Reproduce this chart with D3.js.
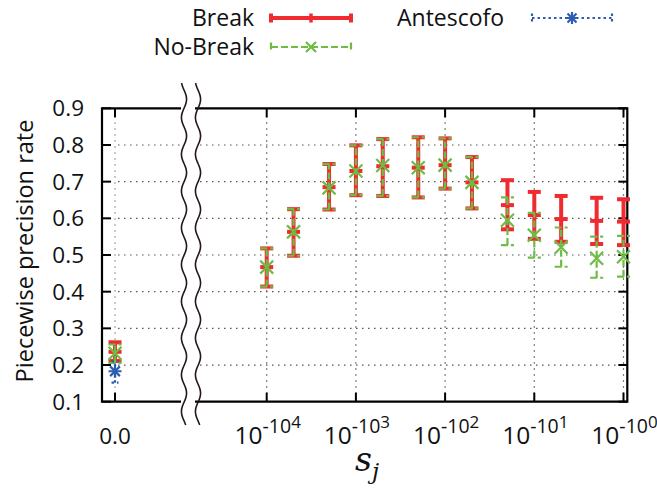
<!DOCTYPE html>
<html>
<head>
<meta charset="utf-8">
<script src="https://cdn.jsdelivr.net/npm/d3@7"></script>
<style>
  body { margin: 0; background: #fff; }
  svg { display: block; font-family: "Open Sans", "Noto Sans", sans-serif; }
</style>
</head>
<body>
<div id="chart"></div>
<script>
// s_j values on the right part: s_j = 10^-n, keep n here
const nValues = [10000, 5000, 2000, 1000, 500, 200, 100, 50, 20, 10, 5, 2, 1]
const xTickN = [10000, 1000, 100, 10, 1]
const xTickExp = ["4", "3", "2", "1", "0"]
const yTicks = [0.1, 0.2, 0.3, 0.4, 0.5, 0.6, 0.7, 0.8, 0.9]

const breakMid = [0.467, 0.563, 0.685, 0.729, 0.742, 0.738, 0.745, 0.698, 0.636, 0.609, 0.598, 0.593, 0.591]
const breakLo  = [0.414, 0.498, 0.624, 0.663, 0.661, 0.657, 0.681, 0.627, 0.570, 0.544, 0.536, 0.530, 0.527]
const breakHi  = [0.518, 0.625, 0.748, 0.799, 0.816, 0.821, 0.818, 0.767, 0.704, 0.672, 0.661, 0.656, 0.652]

const noBreakMid = [0.467, 0.563, 0.683, 0.729, 0.744, 0.738, 0.745, 0.698, 0.595, 0.554, 0.521, 0.491, 0.495]
const noBreakLo  = [0.414, 0.498, 0.624, 0.663, 0.661, 0.657, 0.681, 0.627, 0.527, 0.493, 0.468, 0.438, 0.441]
const noBreakHi  = [0.518, 0.625, 0.748, 0.799, 0.816, 0.821, 0.818, 0.767, 0.657, 0.615, 0.575, 0.550, 0.552]

// the single point at s_j = 0.0
const zeroBreak = [0.236, 0.211, 0.262]
const zeroNoBreak = [0.232, 0.206, 0.256]
const zeroAntescofo = [0.183, 0.152, 0.210]

const W = 657, H = 489
const red = "#ef2b2f", green = "#6dbd45", blue = "#2d5cb4"

const L = 102, R = 627.3, T = 108.3, B = 401.7
const gapL = 184, gapR = 198

const y = d3.scaleLinear().domain([0.1, 0.9]).range([B, T])
const xl = d3.scaleLinear().domain([-0.1, 0.53]).range([L, gapL])
const xr = d3.scaleLog().domain([1e4, 1]).range([266.7, 623.5])

const svg = d3.select("#chart").append("svg")
  .attr("width", W).attr("height", H)

// grid
const grid = svg.append("g")
  .attr("stroke", "#555").attr("stroke-width", 1.2)
  .attr("stroke-dasharray", "1.5,4.5")
yTicks.slice(1, -1).forEach(v => {
  grid.append("line").attr("x1", xl(0) + 3).attr("x2", gapL - 2)
    .attr("y1", y(v)).attr("y2", y(v))
  grid.append("line").attr("x1", gapR + 2).attr("x2", R - 2)
    .attr("y1", y(v)).attr("y2", y(v))
})
grid.append("line").attr("x1", xl(0)).attr("x2", xl(0))
  .attr("y1", T + 8).attr("y2", B - 2).attr("stroke", "#888")
xTickN.forEach(n => {
  grid.append("line").attr("x1", xr(n)).attr("x2", xr(n))
    .attr("y1", T + 2).attr("y2", B - 2)
})

// frame, cut by the break
const frame = svg.append("g").attr("stroke", "#000").attr("stroke-width", 2.2).attr("fill", "none")
frame.append("path").attr("d", `M${gapL - 3},${T}H${L}V${B}H${gapL - 3}`)
frame.append("path").attr("d", `M${gapR - 3},${T}H${R}V${B}H${gapR - 3}`)

// ticks
const ticks = svg.append("g").attr("stroke", "#000").attr("stroke-width", 2)
yTicks.forEach(v => {
  ticks.append("line").attr("x1", L).attr("x2", L + 9).attr("y1", y(v)).attr("y2", y(v))
  ticks.append("line").attr("x1", R - 9).attr("x2", R).attr("y1", y(v)).attr("y2", y(v))
})
ticks.append("line").attr("x1", xl(0)).attr("x2", xl(0)).attr("y1", B).attr("y2", B - 9)
ticks.append("line").attr("x1", xl(0)).attr("x2", xl(0)).attr("y1", T).attr("y2", T + 9)
xTickN.forEach(n => {
  ticks.append("line").attr("x1", xr(n)).attr("x2", xr(n)).attr("y1", B).attr("y2", B - 9)
  ticks.append("line").attr("x1", xr(n)).attr("x2", xr(n)).attr("y1", T).attr("y2", T + 9)
})

// wavy break marks
const wave = d3.line().curve(d3.curveBasis)
;[gapL, gapR].forEach(cx => {
  const pts = d3.range(83, 426, 2).map(yy => [cx + 2.6 * Math.sin(2 * Math.PI * (yy - 90) / 36.75), yy])
  svg.append("path").attr("d", wave(pts))
    .attr("fill", "none").attr("stroke", "#231815").attr("stroke-width", 1.6)
})

// tick labels
svg.append("g").selectAll("text").data(yTicks).join("text")
  .attr("x", 84).attr("y", d => y(d) + 8)
  .attr("text-anchor", "end").attr("font-size", 22.5).attr("fill", "#111")
  .text(d => d.toFixed(1))

svg.append("text").attr("x", xl(0)).attr("y", 444)
  .attr("text-anchor", "middle").attr("font-size", 22.5).attr("fill", "#111").text("0.0")

xTickN.forEach((n, i) => {
  const t = svg.append("text").attr("x", xr(n) + 1).attr("y", 444)
    .attr("text-anchor", "middle").attr("font-size", 24.5).attr("fill", "#111")
  t.append("tspan").text("10")
  t.append("tspan").attr("dy", -11).attr("font-size", 19.5).text("-10")
  t.append("tspan").attr("dy", -5).attr("font-size", 17).text(xTickExp[i])
})

// axis titles
svg.append("text")
  .attr("transform", "translate(33,251) rotate(-90)")
  .attr("text-anchor", "middle").attr("font-size", 23.5).attr("fill", "#111")
  .text("Piecewise precision rate")

const xt = svg.append("text").attr("x", 355).attr("y", 471)
  .attr("font-family", "'DejaVu Serif', 'Liberation Serif', serif")
  .attr("font-style", "italic").attr("font-size", 33).attr("fill", "#111")
xt.append("tspan").text("s")
xt.append("tspan").attr("dy", 8).attr("font-size", 23).text("j")

// markers
function plus(g, cx, cy, s, col, w) {
  g.append("path").attr("d", `M${cx - s},${cy}H${cx + s}M${cx},${cy - s}V${cy + s}`)
    .attr("stroke", col).attr("stroke-width", w).attr("fill", "none")
}
function cross(g, cx, cy, s, col, w) {
  g.append("path").attr("d", `M${cx - s},${cy - s}L${cx + s},${cy + s}M${cx - s},${cy + s}L${cx + s},${cy - s}`)
    .attr("stroke", col).attr("stroke-width", w).attr("fill", "none")
}
function star(g, cx, cy, s, col, w) {
  plus(g, cx, cy, s, col, w)
  cross(g, cx, cy, s * 0.75, col, w)
}

function errBar(g, cx, mid, lo, hi, o) {
  const bar = g.append("g").attr("stroke", o.col).attr("stroke-width", o.w)
    .attr("stroke-dasharray", o.dash).attr("fill", "none")
  bar.append("line").attr("x1", cx).attr("x2", cx).attr("y1", y(lo)).attr("y2", y(hi))
  bar.append("line").attr("x1", cx - o.cap).attr("x2", cx + o.cap).attr("y1", y(lo)).attr("y2", y(lo))
    .attr("stroke-width", o.capW)
  bar.append("line").attr("x1", cx - o.cap).attr("x2", cx + o.cap).attr("y1", y(hi)).attr("y2", y(hi))
    .attr("stroke-width", o.capW)
  o.mark(g, cx, y(mid), o.ms, o.col, o.mw)
}

const styleBreak = { col: red, w: 4, capW: 4, cap: 6.5, dash: null, mark: (g, cx, cy, s, c, w) => {
  g.append("line").attr("x1", cx - s).attr("x2", cx + s).attr("y1", cy).attr("y2", cy)
    .attr("stroke", c).attr("stroke-width", w)
}, ms: 6.5, mw: 4 }
const styleNoBreak = { col: green, w: 2.2, capW: 2.2, cap: 6.5, dash: "7,3", mark: cross, ms: 6.5, mw: 2.2 }
const styleAnt = { col: blue, w: 2.2, capW: 2.2, cap: 3.5, dash: "2.5,3", mark: star, ms: 6.5, mw: 2.2 }

const plot = svg.append("g")
nValues.forEach((n, i) => errBar(plot, xr(n), breakMid[i], breakLo[i], breakHi[i], styleBreak))
errBar(plot, xl(0), zeroBreak[0], zeroBreak[1], zeroBreak[2], styleBreak)
nValues.forEach((n, i) => errBar(plot, xr(n), noBreakMid[i], noBreakLo[i], noBreakHi[i], styleNoBreak))
errBar(plot, xl(0), zeroNoBreak[0], zeroNoBreak[1], zeroNoBreak[2], styleNoBreak)
errBar(plot, xl(0), zeroAntescofo[0], zeroAntescofo[1], zeroAntescofo[2], styleAnt)

// legend
const leg = svg.append("g")
function legendEntry(label, tx, x1, x2, ly, o, big) {
  leg.append("text").attr("x", tx).attr("y", ly + 8).attr("text-anchor", big ? "start" : "end")
    .attr("font-size", 23).attr("fill", "#111").text(label)
  const g = leg.append("g").attr("stroke", o.col).attr("stroke-width", o.w)
    .attr("stroke-dasharray", o.dash).attr("fill", "none")
  g.append("line").attr("x1", x1).attr("x2", x2).attr("y1", ly).attr("y2", ly)
  g.append("line").attr("x1", x1).attr("x2", x1).attr("y1", ly - 4.5).attr("y2", ly + 4.5)
  g.append("line").attr("x1", x2).attr("x2", x2).attr("y1", ly - 4.5).attr("y2", ly + 4.5)
  o.mark(leg, (x1 + x2) / 2, ly, o.legMs, o.col, o.mw)
}
legendEntry("Break", 254, 271, 351, 18, Object.assign({}, styleBreak, { mark: plus, legMs: 4.5, mw: 3.5 }))
legendEntry("No-Break", 254, 271, 351, 47, Object.assign({}, styleNoBreak, { legMs: 5 }))
legendEntry("Antescofo", 397, 532, 612, 18, Object.assign({}, styleAnt, { legMs: 6 }), true)
</script>
</body>
</html>
